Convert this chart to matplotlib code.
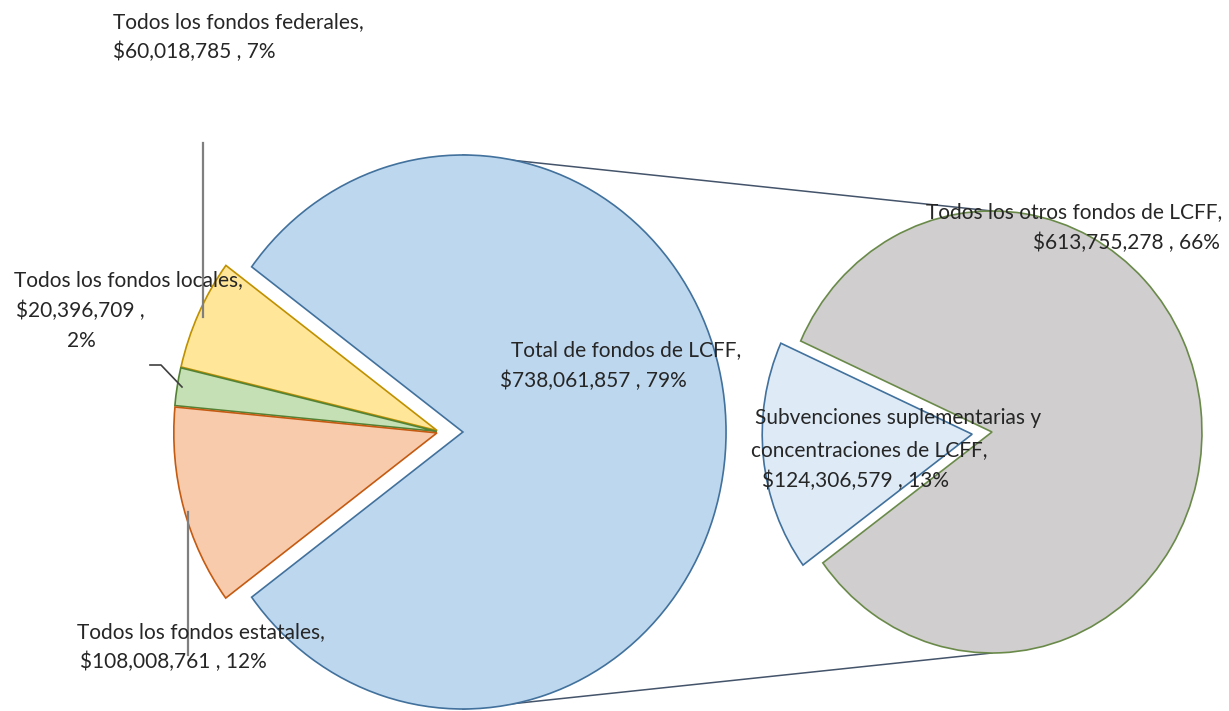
import matplotlib
matplotlib.use("Agg")
import matplotlib.pyplot as plt

# data: left pie (all funds) and right pie (breakdown of LCFF)
main_labels = ["Total de fondos de LCFF", "Todos los fondos federales",
               "Todos los fondos locales", "Todos los fondos estatales"]
main_values = [738061857, 60018785, 20396709, 108008761]
main_pcts = ["79%", "7%", "2%", "12%"]

sub_labels = ["Todos los otros fondos de LCFF",
              "Subvenciones suplementarias y concentraciones de LCFF"]
sub_values = [613755278, 124306579]
sub_pcts = ["66%", "13%"]

main_colors = ["#BDD7EE", "#FFE699", "#C5E0B4", "#F8CBAD"]
main_edges = ["#41719C", "#BF9000", "#548235", "#C55A11"]
sub_colors = ["#D0CECE", "#DEEBF7"]
sub_edges = ["#6A8A4A", "#41719C"]

plt.rcParams['font.family'] = ['Lato', 'DejaVu Sans']

W, H = 1229, 711
sx = 0.95  # picture is a bit squeezed sideways


def px(x, y):
    """image pixel -> data coords"""
    return x / sx, H - y


fig = plt.figure(figsize=(W / 100, H / 100), dpi=100)
ax = fig.add_axes([0, 0, 1, 1])

R1, R2 = 277, 221
c1 = px(440, 432)
c2 = px(992, 432)

# explode is in data units here (radius != 1)
ex1 = [0.087 * R1, 0.012 * R1, 0.012 * R1, 0.012 * R1]
ex2 = [0, 0.095 * R2]

tot = sum(main_values)
start1 = -main_values[0] / tot * 360 / 2
w1, _ = ax.pie(main_values, colors=main_colors, radius=R1, center=c1,
               startangle=start1, explode=ex1,
               wedgeprops=dict(linewidth=1.2))
for w, ec in zip(w1, main_edges):
    w.set_edgecolor(ec)

# second pie is turned a few degrees
start2 = -sub_values[0] / sum(sub_values) * 360 / 2 + 6
w2, _ = ax.pie(sub_values, colors=sub_colors, radius=R2, center=c2,
               startangle=start2, explode=ex2,
               wedgeprops=dict(linewidth=1.2))
for w, ec in zip(w2, sub_edges):
    w.set_edgecolor(ec)

# connector lines between the two pies
lx = c1[0] + ex1[0]
ax.plot([lx, c2[0]], [c1[1] + R1, c2[1] + R2], color="#44546A", lw=1.1, zorder=0.5)
ax.plot([lx, c2[0]], [c1[1] - R1, c2[1] - R2], color="#44546A", lw=1.1, zorder=0.5)

# leader lines
lc = "#7F7F7F"
ax.plot(*zip(px(203, 143), px(203, 317)), color=lc, lw=1.6)
ax.plot(*zip(px(188, 512), px(188, 655)), color=lc, lw=1.6)
ax.plot(*zip(px(150, 365), px(161, 365), px(182, 387)), color="#404040", lw=1.2)


def fmt(v):
    return "${:,}".format(v)


tc = "#262626"
fs = 15


def put(x, y, s, ha="left"):
    ax.text(*px(x, y), s, ha=ha, va="center", fontsize=fs, color=tc)


# federal
put(113, 22, main_labels[1] + ",")
put(113, 52, fmt(main_values[1]) + " , " + main_pcts[1])
# local
put(128, 280, main_labels[2] + ",", ha="center")
put(80, 311, fmt(main_values[2]) + " ,", ha="center")
put(81, 341, main_pcts[2], ha="center")
# state
put(77, 632, main_labels[3] + ",")
put(80, 662, fmt(main_values[3]) + " , " + main_pcts[3])
# LCFF
put(511, 350, main_labels[0] + ",")
put(500, 381, fmt(main_values[0]) + " , " + main_pcts[0])
# other LCFF
put(1222, 212, sub_labels[0] + ",", ha="right")
put(1220, 243, fmt(sub_values[0]) + " , " + sub_pcts[0], ha="right")
# supplemental
put(755, 418, "Subvenciones suplementarias y")
put(751, 450, "concentraciones de LCFF,")
put(762, 481, fmt(sub_values[1]) + " , " + sub_pcts[1])

ax.set_xlim(0, W / sx)
ax.set_ylim(0, H)
ax.set_aspect("auto")
ax.axis("off")

fig.savefig("out.png", dpi=100)
